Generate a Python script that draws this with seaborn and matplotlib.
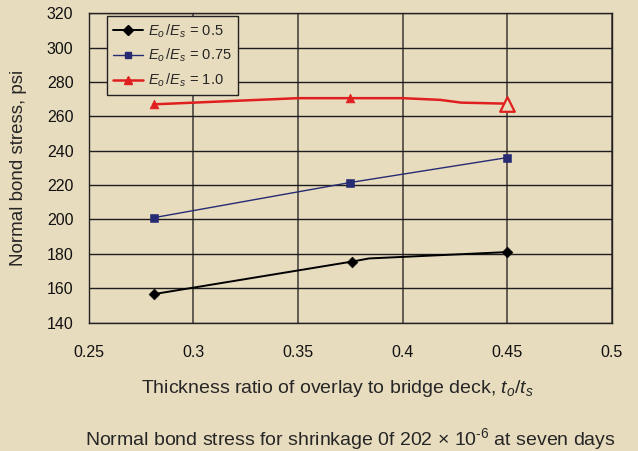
import numpy as np
import pandas as pd
import seaborn as sns
import matplotlib
matplotlib.use('Agg')
import matplotlib.pyplot as plt
from matplotlib.lines import Line2D
from matplotlib.ticker import MultipleLocator

# measured points (markers)
ratio_05 = [0.281, 0.376, 0.450]
stress_05 = [156.5, 175.5, 181.0]
ratio_075 = [0.281, 0.375, 0.450]
stress_075 = [201.0, 221.5, 236.0]
ratio_10 = [0.281, 0.375, 0.450]
stress_10 = [267.0, 270.6, 267.4]

# line paths as drawn (includes the bends between markers)
path_x_05 = [0.281, 0.376, 0.384, 0.450]
path_y_05 = [156.5, 175.5, 177.3, 181.0]
path_x_075 = [0.281, 0.375, 0.450]
path_y_075 = [201.0, 221.5, 236.0]
path_x_10 = [0.281, 0.350, 0.375, 0.400, 0.418, 0.428, 0.450]
path_y_10 = [267.0, 270.6, 270.6, 270.6, 269.6, 268.0, 267.4]

xtick_labels = ['0.25', '0.3', '0.35', '0.4', '0.45', '0.5']
labels = [r'$E_o\,/E_s$ = 0.5', r'$E_o\,/E_s$ = 0.75', r'$E_o\,/E_s$ = 1.0']
colors = ['#000000', '#262b73', '#e01f1f']
BG = '#e8dcbf'

sns.set_style('white')
plt.rcParams['font.family'] = ['Liberation Sans', 'DejaVu Sans']
plt.rcParams['mathtext.fontset'] = 'custom'
plt.rcParams['mathtext.it'] = 'Liberation Sans:italic'
plt.rcParams['mathtext.rm'] = 'Liberation Sans'

fig = plt.figure(figsize=(6.38, 4.51), dpi=100, facecolor=BG)
ax = fig.add_axes([0.139, 0.2849, 0.820, 0.6856])
ax.set_facecolor(BG)

paths = [(path_x_05, path_y_05), (path_x_075, path_y_075), (path_x_10, path_y_10)]
widths = [1.4, 1.0, 1.8]
for (px, py), c, lw in zip(paths, colors, widths):
    sns.lineplot(x=px, y=py, ax=ax, color=c, linewidth=lw, sort=False,
                 estimator=None, legend=False, zorder=3)

sns.scatterplot(x=ratio_05, y=stress_05, ax=ax, marker='D', s=30,
                color=colors[0], edgecolor=colors[0], zorder=4, legend=False)
sns.scatterplot(x=ratio_075, y=stress_075, ax=ax, marker='s', s=28,
                color=colors[1], edgecolor=colors[1], zorder=4, legend=False)
sns.scatterplot(x=ratio_10[:-1], y=stress_10[:-1], ax=ax, marker='^', s=40,
                color=colors[2], edgecolor=colors[2], zorder=4, legend=False)
sns.scatterplot(x=ratio_10[-1:], y=stress_10[-1:], ax=ax, marker='^', s=110,
                facecolor=BG, edgecolor=colors[2], linewidth=1.6, zorder=4,
                legend=False)

ax.set_xlim(0.25, 0.5)
ax.set_ylim(140, 320)
ax.set_xticks([0.25, 0.3, 0.35, 0.4, 0.45, 0.5])
ax.set_xticklabels(xtick_labels)
ax.xaxis.set_minor_locator(MultipleLocator(0.01))
ax.yaxis.set_major_locator(MultipleLocator(20))
ax.yaxis.set_minor_locator(MultipleLocator(4))
ax.grid(True, axis='y', which='major', color='#1e1e1e', linewidth=1.0)
ax.grid(True, axis='x', which='major', color='#57514a', linewidth=1.3)
ax.tick_params(which='major', length=0, labelsize=11.5, colors='#111111')
ax.tick_params(axis='x', which='major', pad=16)
ax.tick_params(axis='y', which='major', pad=11)
ax.tick_params(which='minor', direction='in', length=4, width=0.8,
               color='#222222')
for s in ax.spines.values():
    s.set_color('#222222')
    s.set_linewidth(1.0)

ax.set_ylabel('Normal bond stress, psi', fontsize=13.5)
ax.yaxis.set_label_coords(-0.134, 0.5)
ax.yaxis.label.set_va('center')
ax.set_xlabel(r'Thickness ratio of overlay to bridge deck, $t_o/t_s$',
              fontsize=14)
ax.xaxis.set_label_coords(0.476, -0.215)
ax.xaxis.label.set_va('center')

handles = [
    Line2D([], [], color=colors[0], lw=1.4, marker='D', ms=5),
    Line2D([], [], color=colors[1], lw=1.0, marker='s', ms=5),
    Line2D([], [], color=colors[2], lw=1.8, marker='^', ms=6),
]
leg = ax.legend(handles, labels, loc='upper left', bbox_to_anchor=(0.0344, 0.99),
                fontsize=10.5, frameon=True, fancybox=False, framealpha=1,
                facecolor=BG, edgecolor='#222222', handlelength=2.1,
                borderpad=0.4, labelspacing=0.5, handletextpad=0.35,
                borderaxespad=0.0)
leg.get_frame().set_linewidth(1.0)

fig.text(0.549, 0.027, r'Normal bond stress for shrinkage 0f 202 × 10$^{\text{-}6}$ at seven days',
         ha='center', va='center', fontsize=14)

fig.savefig('out.png', dpi=100, facecolor=BG)
